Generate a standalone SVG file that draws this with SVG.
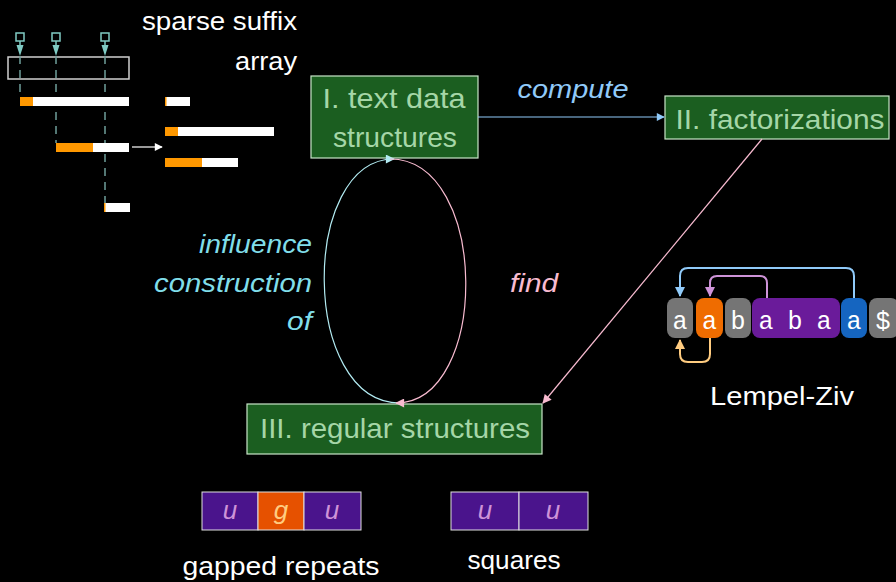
<svg xmlns="http://www.w3.org/2000/svg" width="896" height="582" viewBox="0 0 896 582">
  <style>
    .sans { font-family: "Liberation Sans", "DejaVu Sans", sans-serif; }
    .node rect { fill: #1b5e20; stroke: #c8e6c9; stroke-width: 1.2; }
    .node text { fill: #a5d6a7; font-size: 28px; text-anchor: middle; }
    .lbl { font-size: 26px; fill: #ffffff; }
    .ital { font-style: italic; }
    .mono { font-family: "Liberation Mono", "DejaVu Sans Mono", monospace; font-size: 25px; fill: #ffffff; text-anchor: middle; }
    .bar { fill: #ffffff; }
    .hit { fill: #ff9800; }
    .dash { stroke: #6f9e9b; stroke-width: 1.5; stroke-dasharray: 8 6; fill: none; }
    .cell { stroke: #e0e0e0; stroke-width: 1; }
  </style>
  <defs>
    <marker id="ahBlue" viewBox="0 0 10 10" refX="9" refY="5" markerWidth="10" markerHeight="8" markerUnits="userSpaceOnUse" orient="auto">
      <path d="M0,0 L10,5 L0,10 z" fill="#90caf9"/>
    </marker>
    <marker id="ahPink" viewBox="0 0 10 10" refX="9" refY="5" markerWidth="12" markerHeight="9" markerUnits="userSpaceOnUse" orient="auto">
      <path d="M0,0 L10,5 L0,10 z" fill="#f8bbd0"/>
    </marker>
    <marker id="ahCyan" viewBox="0 0 10 10" refX="9" refY="5" markerWidth="12" markerHeight="9" markerUnits="userSpaceOnUse" orient="auto">
      <path d="M0,0 L10,5 L0,10 z" fill="#b2ebf2"/>
    </marker>
    <marker id="ahWhite" viewBox="0 0 10 10" refX="9" refY="5" markerWidth="10" markerHeight="8" markerUnits="userSpaceOnUse" orient="auto">
      <path d="M0,0 L10,5 L0,10 z" fill="#ffffff"/>
    </marker>
    <marker id="lzBlue" viewBox="0 0 10 10" refX="9" refY="5" markerWidth="10" markerHeight="10" markerUnits="userSpaceOnUse" orient="auto">
      <path d="M0,0 L10,5 L0,10 z" fill="#90caf9"/>
    </marker>
    <marker id="lzPurple" viewBox="0 0 10 10" refX="9" refY="5" markerWidth="10" markerHeight="10" markerUnits="userSpaceOnUse" orient="auto">
      <path d="M0,0 L10,5 L0,10 z" fill="#ce93d8"/>
    </marker>
    <marker id="lzOrange" viewBox="0 0 10 10" refX="9" refY="5" markerWidth="10" markerHeight="10" markerUnits="userSpaceOnUse" orient="auto">
      <path d="M0,0 L10,5 L0,10 z" fill="#ffcc80"/>
    </marker>
  </defs>

  <rect x="0" y="0" width="896" height="582" fill="#000000"/>

  <!-- sparse suffix array sketch -->
  <g id="sparse-suffix-array">
    <g stroke="#80cbc4" stroke-width="1.5" fill="none">
      <rect x="16" y="33" width="8" height="8"/>
      <rect x="52" y="33" width="8" height="8"/>
      <rect x="101" y="33" width="8" height="8"/>
      <path d="M20,41 V46 M56,41 V46 M105,41 V46"/>
    </g>
    <g fill="#80cbc4">
      <path d="M16.5,45 L23.5,45 L20,56 z"/>
      <path d="M52.5,45 L59.5,45 L56,56 z"/>
      <path d="M101.5,45 L108.5,45 L105,56 z"/>
    </g>
    <rect x="8" y="57" width="121" height="22" fill="none" stroke="#d0d0d0" stroke-width="1.5"/>
    <line class="dash" x1="20" y1="56" x2="20" y2="97"/>
    <line class="dash" x1="56" y1="56" x2="56" y2="143"/>
    <line class="dash" x1="105" y1="56" x2="105" y2="203"/>
    <!-- suffixes -->
    <rect class="bar" x="20" y="97" width="109" height="9"/>
    <rect class="hit" x="20" y="97" width="13" height="9"/>
    <rect class="bar" x="56" y="143" width="73" height="9"/>
    <rect class="hit" x="56" y="143" width="37" height="9"/>
    <rect class="bar" x="104" y="203" width="26" height="9"/>
    <rect class="hit" x="104" y="203" width="1.5" height="9"/>
    <line x1="132" y1="147" x2="162" y2="147" stroke="#ffffff" stroke-width="1.2" marker-end="url(#ahWhite)"/>
    <!-- sorted suffixes -->
    <rect class="bar" x="165" y="97" width="25" height="9"/>
    <rect class="hit" x="165" y="97" width="1.5" height="9"/>
    <rect class="bar" x="165" y="127" width="109" height="9"/>
    <rect class="hit" x="165" y="127" width="13" height="9"/>
    <rect class="bar" x="165" y="158" width="73" height="9"/>
    <rect class="hit" x="165" y="158" width="37" height="9"/>
    <text class="sans lbl" x="297" y="30" text-anchor="end" textLength="155" lengthAdjust="spacingAndGlyphs">sparse suffix</text>
    <text class="sans lbl" x="297" y="70" text-anchor="end" textLength="62" lengthAdjust="spacingAndGlyphs">array</text>
  </g>

  <!-- main nodes -->
  <g id="node-text-data-structures" class="node sans">
    <rect x="311" y="76" width="167" height="82"/>
    <text x="394" y="108" textLength="143" lengthAdjust="spacingAndGlyphs">I. text data</text>
    <text x="395" y="147" textLength="124" lengthAdjust="spacingAndGlyphs">structures</text>
  </g>
  <g id="node-factorizations" class="node sans">
    <rect x="665" y="96" width="224" height="43"/>
    <text x="780" y="129" textLength="209" lengthAdjust="spacingAndGlyphs">II. factorizations</text>
  </g>
  <g id="node-regular-structures" class="node sans">
    <rect x="247" y="404" width="295" height="50"/>
    <text x="395" y="438" textLength="270" lengthAdjust="spacingAndGlyphs">III. regular structures</text>
  </g>

  <!-- connectors -->
  <g id="connectors" fill="none" stroke-width="1.2">
    <line x1="478" y1="117" x2="664" y2="117" stroke="#90caf9" marker-end="url(#ahBlue)"/>
    <line x1="762" y1="139" x2="543" y2="403" stroke="#f8bbd0" marker-end="url(#ahPink)"/>
    <path d="M400,403 C300,403 300,159 394,159" stroke="#b2ebf2" marker-end="url(#ahCyan)"/>
    <path d="M390,159 C490,159 490,403 396,403" stroke="#f8bbd0" marker-end="url(#ahPink)"/>
    <text class="sans ital" x="573" y="98" font-size="26" fill="#90caf9" text-anchor="middle" textLength="111" lengthAdjust="spacingAndGlyphs" stroke="none">compute</text>
    <text class="sans ital" x="534" y="292" font-size="26" fill="#f8bbd0" text-anchor="middle" textLength="48" lengthAdjust="spacingAndGlyphs" stroke="none">find</text>
    <g class="sans ital" font-size="26" fill="#80deea" text-anchor="end" stroke="none">
      <text x="312" y="253" textLength="113" lengthAdjust="spacingAndGlyphs">influence</text>
      <text x="312" y="292" textLength="158" lengthAdjust="spacingAndGlyphs">construction</text>
      <text x="312" y="330" textLength="25" lengthAdjust="spacingAndGlyphs">of</text>
    </g>
  </g>

  <!-- Lempel-Ziv factorization example -->
  <g id="lempel-ziv">
    <rect x="667" y="298" width="26" height="40" rx="8" fill="#757575"/>
    <rect x="696" y="298" width="27" height="40" rx="8" fill="#ef6c00"/>
    <rect x="725" y="298" width="26" height="40" rx="8" fill="#757575"/>
    <rect x="752" y="298" width="88" height="40" rx="8" fill="#6a1b9a"/>
    <rect x="841" y="298" width="26" height="40" rx="8" fill="#1565c0"/>
    <rect x="869" y="298" width="30" height="40" rx="8" fill="#757575"/>
    <text class="mono" x="680" y="329">a</text>
    <text class="mono" x="709.5" y="329">a</text>
    <text class="mono" x="738" y="329">b</text>
    <text class="mono" x="766" y="329">a</text>
    <text class="mono" x="795" y="329">b</text>
    <text class="mono" x="824" y="329">a</text>
    <text class="mono" x="854" y="329">a</text>
    <text class="mono" x="883" y="329">$</text>
    <g fill="none" stroke-width="2">
      <path d="M854,298 L854,276 Q854,268 846,268 L688,268 Q680,268 680,276 L680,296" stroke="#90caf9" marker-end="url(#lzBlue)"/>
      <path d="M767,298 L767,283 Q767,276 760,276 L717,276 Q710,276 710,283 L710,296" stroke="#ce93d8" marker-end="url(#lzPurple)"/>
      <path d="M710,338 L710,354 Q710,362 702,362 L688,362 Q680,362 680,354 L680,340" stroke="#ffcc80" marker-end="url(#lzOrange)"/>
    </g>
    <text class="sans lbl" x="782" y="405" text-anchor="middle" textLength="144" lengthAdjust="spacingAndGlyphs">Lempel-Ziv</text>
  </g>

  <!-- gapped repeat u g u -->
  <g id="gapped-repeats">
    <rect class="cell" x="202" y="492" width="56" height="38" fill="#4a148c"/>
    <rect class="cell" x="258" y="492" width="46" height="38" fill="#e65100"/>
    <rect class="cell" x="304" y="492" width="57" height="38" fill="#4a148c"/>
    <g class="sans ital" font-size="26" text-anchor="middle">
      <text x="230" y="519" fill="#ce93d8">u</text>
      <text x="281" y="519" fill="#ffcc80">g</text>
      <text x="332" y="519" fill="#ce93d8">u</text>
    </g>
    <text class="sans lbl" x="281" y="575" text-anchor="middle" textLength="197" lengthAdjust="spacingAndGlyphs">gapped repeats</text>
  </g>

  <!-- square u u -->
  <g id="squares">
    <rect class="cell" x="451" y="492" width="68" height="38" fill="#4a148c"/>
    <rect class="cell" x="519" y="492" width="69" height="38" fill="#4a148c"/>
    <g class="sans ital" font-size="26" text-anchor="middle" fill="#ce93d8">
      <text x="485" y="519">u</text>
      <text x="553" y="519">u</text>
    </g>
    <text class="sans lbl" x="514" y="569" text-anchor="middle" textLength="93" lengthAdjust="spacingAndGlyphs">squares</text>
  </g>
</svg>
